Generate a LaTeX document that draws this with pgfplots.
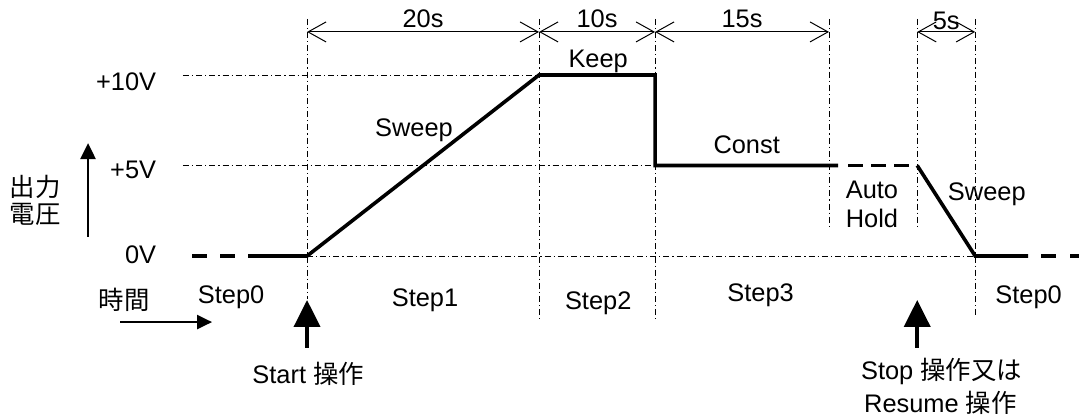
\documentclass[border=0pt]{standalone}
\usepackage{fontspec}
\setmainfont{Liberation Sans}
\newfontfamily\cjk{Noto Sans CJK JP}
\usepackage{pgfplots}
\pgfplotsset{compat=1.18}
\usetikzlibrary{arrows.meta}

\begin{document}
\begin{tikzpicture}[font=\fontsize{12.7}{15}\selectfont]
\begin{axis}[
    scale only axis,
    width=539.5pt, height=209.5pt,
    xmin=-26.47, xmax=66.55,
    ymin=-9.006, ymax=14.144,
    hide axis, clip=false, no markers,
    dd/.style={black, line width=0.5pt, dash pattern=on 3pt off 1.5pt on 0.6pt off 1.5pt},
    thk/.style={black, line width=1.8pt},
    dim/.style={black, line width=0.5pt, {Straight Barb[length=9pt,width=10pt]}-{Straight Barb[length=9pt,width=10pt]}},
]
% guide lines (dash-dot)
\addplot[dd] coordinates {(-10.7,10) (20,10)};
\addplot[dd] coordinates {(-10.7,5) (30,5)};
\addplot[dd] coordinates {(0,0) (57.6,0)};
\addplot[dd] coordinates {(0,13.1) (0,-2.4)};
\addplot[dd] coordinates {(20,13.1) (20,-3.5)};
\addplot[dd] coordinates {(30,13.1) (30,-3.5)};
\addplot[dd] coordinates {(45,13.1) (45,1.55)};
\addplot[dd] coordinates {(52.6,13.1) (52.6,1.55)};
\addplot[dd] coordinates {(57.6,13.1) (57.6,-3.4)};

% durations
\addplot[dim] coordinates {(0,12.38) (20,12.38)};
\addplot[dim] coordinates {(20,12.38) (30,12.38)};
\addplot[dim] coordinates {(30,12.38) (45,12.38)};
\addplot[dim] coordinates {(52.6,12.38) (57.6,12.38)};
\node[anchor=base] at (axis cs:10,12.6) {20s};
\node[anchor=base] at (axis cs:25,12.6) {10s};
\node[anchor=base] at (axis cs:37.5,12.6) {15s};
\node[anchor=base] at (axis cs:55.1,12.5) {5s};

% output voltage
\addplot[thk, dash pattern=on 7.5pt off 6.5pt] coordinates {(-9.91,0) (-5.09,0)};
\addplot[thk] coordinates {(-5.09,0) (0,0) (20,10) (30,10) (30,5) (45.78,5)};
\addplot[thk, dash pattern=on 7.5pt off 4pt] coordinates {(46.64,5) (52.6,5)};
\addplot[thk] coordinates {(52.6,5) (57.6,0) (62.16,0)};
\addplot[thk, dash pattern=on 7.5pt off 7pt] coordinates {(63.28,0) (66.55,0)};

% axis arrows
\addplot[black, line width=1.2pt, -{Triangle[length=8pt,width=7.5pt]}] coordinates {(-18.88,1.05) (-18.88,6.24)};
\addplot[black, line width=1.2pt, -{Triangle[length=7.5pt,width=7pt]}] coordinates {(-16.1,-3.65) (-8.19,-3.65)};

% operation arrows
\addplot[black, line width=2pt, -{Triangle[length=13.5pt,width=13pt]}] coordinates {(0,-5.08) (0,-2.43)};
\addplot[black, line width=2pt, -{Triangle[length=13.5pt,width=13pt]}] coordinates {(52.6,-5.08) (52.6,-2.43)};

% labels
\node[anchor=base east] at (axis cs:-12.4,9.17) {+10V};
\node[anchor=base east] at (axis cs:-12.4,4.3) {+5V};
\node[anchor=base east] at (axis cs:-12.4,-0.44) {0V};
\node[anchor=base] at (axis cs:-23.45,3.26) {\cjk 出力};
\node[anchor=base] at (axis cs:-23.45,1.82) {\cjk 電圧};
\node[anchor=base] at (axis cs:-15.78,-2.98) {\cjk 時間};

\node[anchor=base] at (axis cs:9.22,6.63) {Sweep};
\node[anchor=base] at (axis cs:25.1,10.39) {Keep};
\node[anchor=base] at (axis cs:37.9,5.64) {Const};
\node[anchor=base] at (axis cs:48.7,3.2) {Auto};
\node[anchor=base] at (axis cs:48.7,1.6) {Hold};
\node[anchor=base] at (axis cs:58.6,3.09) {Sweep};

\node[anchor=base] at (axis cs:-6.55,-2.65) {Step0};
\node[anchor=base] at (axis cs:10.17,-2.8) {Step1};
\node[anchor=base] at (axis cs:25.1,-2.98) {Step2};
\node[anchor=base] at (axis cs:39.1,-2.54) {Step3};
\node[anchor=base] at (axis cs:62.2,-2.6) {Step0};

\node[anchor=base] at (axis cs:0.1,-7.02) {Start {\cjk 操作}};
\node[anchor=base] at (axis cs:54.7,-6.85) {Stop {\cjk 操作又は}};
\node[anchor=base] at (axis cs:54.6,-8.67) {Resume {\cjk 操作}};
\end{axis}
\pgfresetboundingbox
\path (0,0) rectangle (539.5pt,209.5pt);
\end{tikzpicture}
\end{document}
